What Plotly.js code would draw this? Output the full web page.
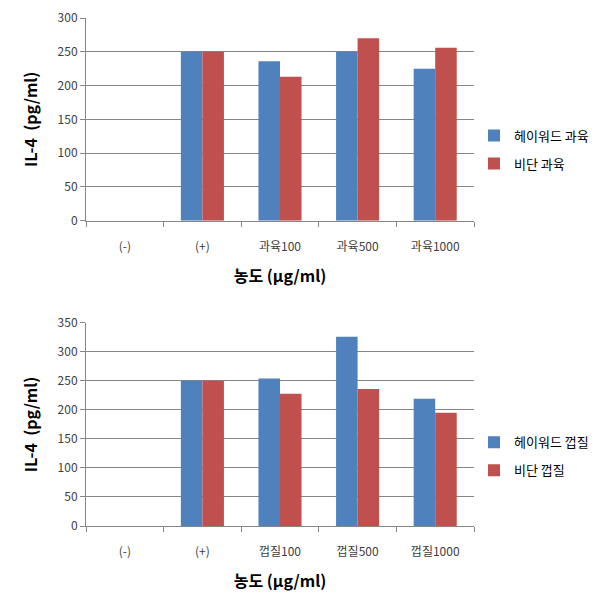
<!DOCTYPE html>
<html>
<head>
<meta charset="utf-8">
<script src="https://cdn.plot.ly/plotly-3.0.1.min.js"></script>
<style>body{margin:0;background:#fff}#chart{width:606px;height:609px}</style>
</head>
<body>
<div id="chart"></div>
<script>
// IL-4 (pg/ml) by concentration, two panels
var catsTop = ['(-)', '(+)', '과육100', '과육500', '과육1000'];
var haywardFlesh = [0, 250, 236, 250, 225];
var bidanFlesh = [0, 250, 213, 270, 256];

var catsBottom = ['(-)', '(+)', '껍질100', '껍질500', '껍질1000'];
var haywardPeel = [0, 250, 254, 326, 219];
var bidanPeel = [0, 250, 228, 236, 195];

var blue = '#4f81bd';
var red = '#c0504d';
var font = '"Noto Sans CJK KR", sans-serif';

var data = [
  {x: catsTop, y: haywardFlesh, type: 'bar', name: '헤이워드 과육', marker: {color: blue}, xaxis: 'x', yaxis: 'y', legend: 'legend', legendgroup: 'a'},
  {x: catsTop, y: bidanFlesh, type: 'bar', name: '비단 과육', marker: {color: red}, xaxis: 'x', yaxis: 'y', legend: 'legend', legendgroup: 'b'},
  {x: catsBottom, y: haywardPeel, type: 'bar', name: '헤이워드 껍질', marker: {color: blue}, xaxis: 'x2', yaxis: 'y2', legend: 'legend2', legendgroup: 'c'},
  {x: catsBottom, y: bidanPeel, type: 'bar', name: '비단 껍질', marker: {color: red}, xaxis: 'x2', yaxis: 'y2', legend: 'legend2', legendgroup: 'd'}
];

function xax(anchor) {
  return {
    anchor: anchor,
    type: 'category',
    showline: true, linecolor: '#868686', linewidth: 1,
    ticks: 'outside', ticklen: 5, tickcolor: '#868686', tickson: 'boundaries',
    ticklabelstandoff: 15,
    tickfont: {family: font, size: 12, color: '#404040'},
    title: {text: '농도 (μg/ml)', font: {family: font, size: 16, color: '#000', weight: 700}, standoff: 17},
    fixedrange: true
  };
}
function yax(anchor, domain, max, dtick) {
  return {
    anchor: anchor, domain: domain,
    range: [0, max], dtick: dtick,
    showline: true, linecolor: '#868686', linewidth: 1,
    ticks: 'outside', ticklen: 5, tickcolor: '#868686',
    gridcolor: '#868686', zeroline: false,
    tickfont: {family: font, size: 12, color: '#404040'},
    title: {text: 'IL-4  (pg/ml)', font: {family: font, size: 16, color: '#000', weight: 700}, standoff: 16}
  };
}

var layout = {
  width: 606, height: 609,
  margin: {l: 86, r: 132, t: 18, b: 83},
  paper_bgcolor: '#fff', plot_bgcolor: '#fff',
  bargap: 0.445, bargroupgap: 0,
  xaxis: xax('y'),
  yaxis: yax('x', [0.601, 1], 300, 50),
  xaxis2: xax('y2'),
  yaxis2: yax('x2', [0, 0.4], 350, 50),
  legend: {x: 1.0, xanchor: 'left', y: 0.741, yanchor: 'middle', font: {family: font, size: 13, color: '#000'}, itemwidth: 30, tracegroupgap: 8},
  legend2: {x: 1.0, xanchor: 'left', y: 0.137, yanchor: 'middle', font: {family: font, size: 13, color: '#000'}, itemwidth: 30, tracegroupgap: 8},
  showlegend: true
};

Plotly.newPlot('chart', data, layout, {displayModeBar: false, staticPlot: true});
</script>
</body>
</html>
